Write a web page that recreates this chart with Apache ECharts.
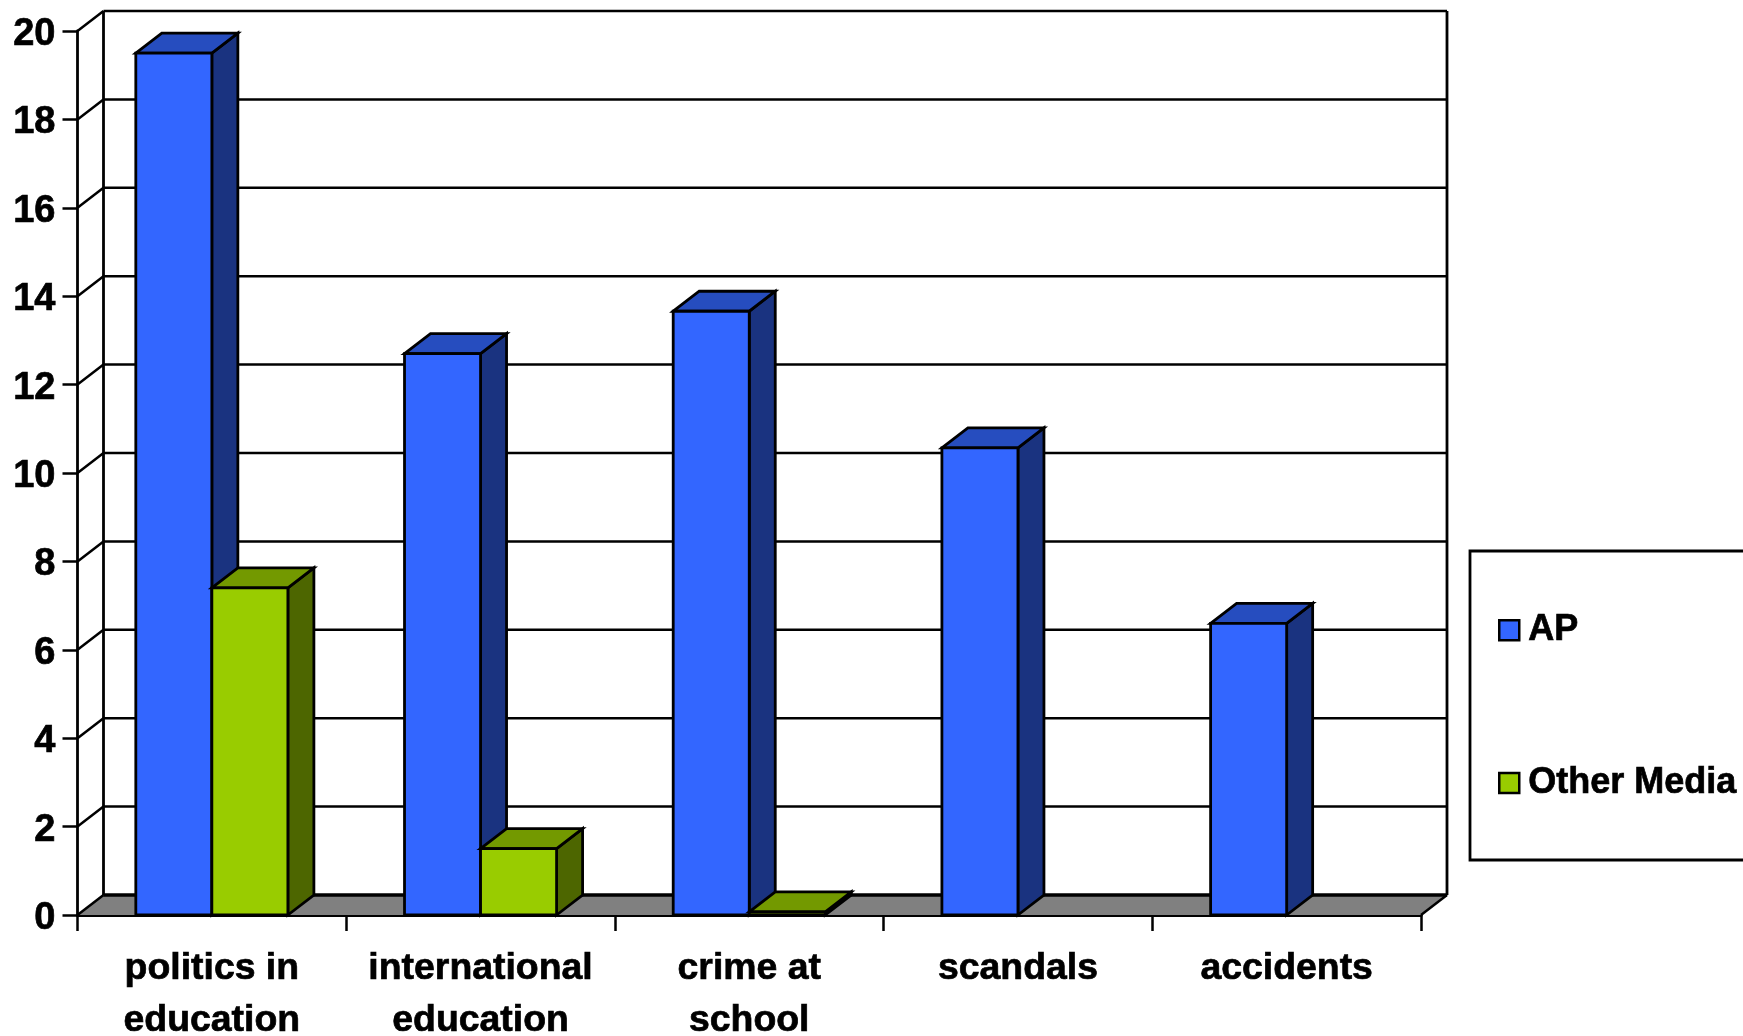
<!DOCTYPE html>
<html>
<head>
<meta charset="utf-8">
<style>html,body{margin:0;padding:0;background:#fff}#c{width:1743px;height:1036px}</style>
<script src="https://cdn.jsdelivr.net/npm/echarts@6/dist/echarts.min.js"></script>
</head>
<body>
<div id="c"></div>
<script>
var categories = ['politics in\neducation', 'international\neducation', 'crime at\nschool', 'scandals', 'accidents'];
var apValues = [19.5, 12.7, 13.66, 10.57, 6.6];
var otherValues = [7.4, 1.5, 0.07, null, null];
var yTicks = [0, 2, 4, 6, 8, 10, 12, 14, 16, 18, 20];

var FONT = '"Liberation Sans", Arial, sans-serif';
var DX = 26, DY = 20, LW = 2.8, BAR_RATIO = 0.283;

function poly(points, fill, lw) {
  return { type: 'polygon', shape: { points: points },
    style: { fill: fill, stroke: '#000', lineWidth: lw === undefined ? LW : lw, lineJoin: 'miter' } };
}
function line(x1, y1, x2, y2, lw) {
  return { type: 'line', shape: { x1: x1, y1: y1, x2: x2, y2: y2 },
    style: { stroke: '#000', lineWidth: lw } };
}
function renderWall(params, api) {
  var t = api.value(0);
  var y = api.coord([0, t])[1];
  var band = api.size([1, 0])[0];
  var xl = api.coord([0, t])[0] - band / 2;
  var xr = xl + band * categories.length;
  var children = [];
  if (t === 0) {
    var yTop = api.coord([0, 20])[1];
    children.push(poly([[xl, y], [xl + DX, y - DY], [xr + DX, y - DY], [xr, y]], '#808080', 0));
    children.push(line(xl + DX, y - DY, xr + DX, y - DY, 3.5));
    children.push(line(xl, y, xl + DX, y - DY, 2.5));
    children.push(line(xr, y, xr + DX, y - DY, 2.5));
    children.push(line(xl + DX, y - DY, xl + DX, yTop - DY, 2.8));
    children.push(line(xr + DX, y - DY, xr + DX, yTop - DY, 2.8));
  } else {
    children.push(line(xl, y, xl + DX, y - DY, 2.5));
    children.push(line(xl + DX, y - DY, xr + DX, y - DY, 2.5));
  }
  return { type: 'group', children: children };
}
function makeBar(offset, front, side, top) {
  return function (params, api) {
    var i = api.value(0), v = api.value(1);
    var w = api.size([1, 0])[0] * BAR_RATIO;
    var c = api.coord([i, 0]);
    var x = c[0] - w + offset * w, y0 = c[1];
    var y = api.coord([i, v])[1];
    return { type: 'group', children: [
      poly([[x + w, y], [x + w + DX, y - DY], [x + w + DX, y0 - DY], [x + w, y0]], side),
      poly([[x, y], [x + DX, y - DY], [x + w + DX, y - DY], [x + w, y]], top),
      poly([[x, y], [x + w, y], [x + w, y0], [x, y0]], front)
    ] };
  };
}
function pairs(values) {
  var out = [];
  values.forEach(function (v, i) { if (v !== null) out.push([i, v]); });
  return out;
}

var chart = echarts.init(document.getElementById('c'), null, { renderer: 'canvas' });
chart.setOption({
  animation: false,
  backgroundColor: '#fff',
  grid: { left: 77.5, right: 322, top: 31, bottom: 121, outerBoundsMode: 'none' },
  xAxis: {
    type: 'category', data: categories, boundaryGap: true,
    axisLine: { show: true, onZero: false, lineStyle: { color: '#000', width: 3 } },
    axisTick: { show: true, length: 16, alignWithLabel: false, lineStyle: { color: '#000', width: 2.5 } },
    axisLabel: { interval: 0, margin: 28, color: '#000', fontFamily: FONT, fontWeight: 'bold', fontSize: 37.4, lineHeight: 52, textBorderColor: '#000', textBorderWidth: 0.7 },
    splitLine: { show: false }
  },
  yAxis: {
    type: 'value', min: 0, max: 20, interval: 2,
    axisLine: { show: true, lineStyle: { color: '#000', width: 2.8 } },
    axisTick: { show: true, length: 15, lineStyle: { color: '#000', width: 2.5 } },
    axisLabel: { margin: 22, verticalAlign: 'top', lineHeight: 7, color: '#000', fontFamily: FONT, fontWeight: 'bold', fontSize: 38, textBorderColor: '#000', textBorderWidth: 0.7 },
    splitLine: { show: false }
  },
  legend: {
    orient: 'vertical', left: 1498, top: 612, padding: 0,
    itemWidth: 20, itemHeight: 20, itemGap: 116,
    icon: 'rect',
    data: ['AP', 'Other Media'],
    itemStyle: { borderColor: '#000', borderWidth: 2.5 },
    textStyle: { color: '#000', fontFamily: FONT, fontWeight: 'bold', fontSize: 36, padding: [0, 0, 0, 4], textBorderColor: '#000', textBorderWidth: 0.7 },
    selectedMode: false
  },
  graphic: [{
    type: 'rect', z: -1, shape: { x: 1470, y: 551, width: 320, height: 309 },
    style: { fill: '#fff', stroke: '#000', lineWidth: 2.8 }
  }],
  series: [
    { type: 'custom', name: 'walls', renderItem: renderWall, data: yTicks.map(function (t) { return [t]; }), encode: { y: 0 }, z: 1, silent: true },
    { type: 'custom', name: 'AP', renderItem: makeBar(0, '#3366FF', '#1A3380', '#264DBF'), data: pairs(apValues), encode: { x: 0, y: 1 }, itemStyle: { color: '#3366FF' }, z: 2, silent: true },
    { type: 'custom', name: 'Other Media', renderItem: makeBar(1, '#99CC00', '#4D6600', '#739900'), data: pairs(otherValues), encode: { x: 0, y: 1 }, itemStyle: { color: '#99CC00' }, z: 3, silent: true }
  ]
});
</script>
</body>
</html>
